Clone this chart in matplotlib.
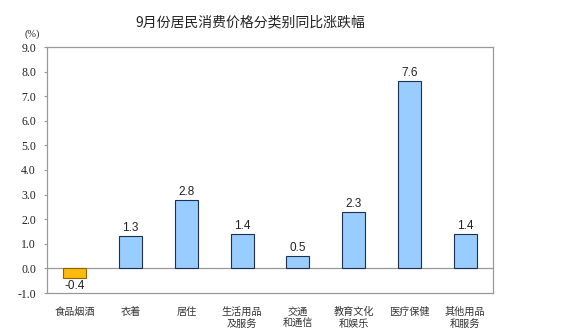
import matplotlib
matplotlib.use('Agg')
import matplotlib.pyplot as plt
import numpy as np

plt.rcParams['font.family'] = ['Noto Sans CJK SC', 'DejaVu Sans']

categories = ['食品烟酒', '衣着', '居住', '生活用品\n及服务', '交通\n和通信', '教育文化\n和娱乐', '医疗保健', '其他用品\n和服务']
values = [-0.4, 1.3, 2.8, 1.4, 0.5, 2.3, 7.6, 1.4]
yticks = [-1.0, 0.0, 1.0, 2.0, 3.0, 4.0, 5.0, 6.0, 7.0, 8.0, 9.0]

fig = plt.figure(figsize=(5.61, 3.30), dpi=100)
ax = fig.add_axes([47 / 561, 1 - 293 / 330, 446 / 561, 246 / 330])

x = np.arange(len(categories))
colors = ['#FFB90F' if v < 0 else '#99CCFF' for v in values]
edges = ['#8B6508' if v < 0 else '#1F2F4F' for v in values]
ax.bar(x, values, width=0.41, color=colors, edgecolor=edges, linewidth=0.8, zorder=3)

for xi, v in zip(x, values):
    off = 0.08 if v >= 0 else -0.08
    ax.text(xi, v + off, f'{v:.1f}', ha='center', va='bottom' if v >= 0 else 'top',
            fontsize=8.5, family=['Liberation Sans'], color='#222222')

ax.axhline(0, color='#999999', linewidth=0.9, zorder=2)
ax.set_xlim(-0.5, len(categories) - 0.5)
ax.set_ylim(-1.0, 9.0)
ax.set_yticks(yticks)
ax.set_yticklabels([f'{t:.1f}' for t in yticks], family=['Liberation Serif'], fontsize=8.5, color='#222222')
ax.tick_params(axis='y', length=2, color='#999999', pad=6)
ax.set_xticks([])
for s in ax.spines.values():
    s.set_color('#999999')
    s.set_linewidth(0.9)

for xi, c in zip(x, categories):
    ax.text(xi, -1.55, c, ha='center', va='top', fontsize=7.3, color='#333333', linespacing=1.25)

fig.text(250 / 561, 1 - 22 / 330, '9月份居民消费价格分类别同比涨跌幅', ha='center', va='center',
         fontsize=10, color='#222222')
fig.text(32 / 561, 1 - 34 / 330, '(%)', ha='center', va='center', fontsize=7.5,
         family=['Liberation Serif'], color='#222222')

fig.savefig('out.png', dpi=100)
